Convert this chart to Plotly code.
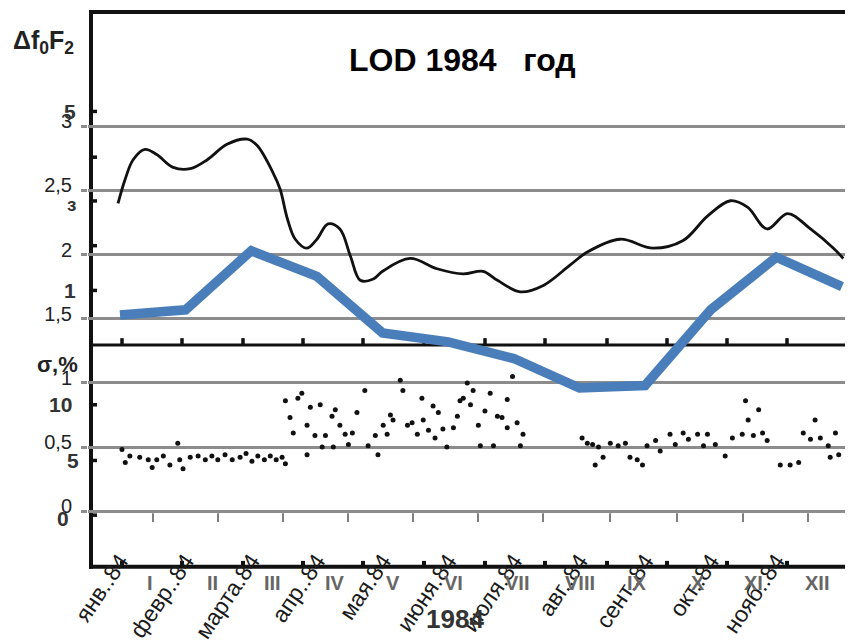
import plotly.graph_objects as go

# ---------------- data ----------------
months = ["янв..84", "февр..84", "марта.84", "апр..84", "мая.84", "июня.84",
          "июля.84", "авг..84", "сент..84", "окт..84", "нояб..84", "дек..84"]
lod_values = [1.53, 1.57, 2.03, 1.83, 1.39, 1.32, 1.19, 0.96, 0.98, 1.57, 1.98, 1.75]

y_ticks = [0, 0.5, 1, 1.5, 2, 2.5, 3]
y_tick_text = ["0", "0,5", "1", "1,5", "2", "2,5", "3"]

# scanned ΔfoF2 curve (month-index units, same value axis)
curve_x = [-0.03, 0.08, 0.20, 0.38, 0.56, 0.81, 1.07, 1.33, 1.63, 1.94, 2.09, 2.33,
           2.44, 2.55, 2.67, 2.85, 3.00, 3.17, 3.35, 3.51, 3.66, 3.86, 4.00, 4.42,
           4.83, 5.23, 5.53, 5.75, 6.10, 6.45, 6.86, 7.12, 7.62, 8.12, 8.58, 8.95,
           9.30, 9.56, 9.86, 10.17, 10.52, 10.87, 11.02]
curve_y = [2.40, 2.59, 2.74, 2.82, 2.78, 2.68, 2.67, 2.74, 2.86, 2.90, 2.85, 2.64,
           2.51, 2.28, 2.12, 2.05, 2.12, 2.24, 2.20, 1.99, 1.80, 1.81, 1.87, 1.97,
           1.89, 1.85, 1.87, 1.80, 1.71, 1.76, 1.92, 2.02, 2.12, 2.05, 2.11, 2.30,
           2.42, 2.37, 2.20, 2.32, 2.20, 2.05, 1.97]

# scanned sigma dots
sigma_x = [0.03, 0.08, 0.15, 0.30, 0.43, 0.49, 0.56, 0.66, 0.76, 0.88, 0.91, 0.96,
           1.07, 1.19, 1.30, 1.40, 1.49, 1.60, 1.71, 1.83, 1.92, 2.01, 2.10, 2.20,
           2.29, 2.38, 2.47, 2.52,
           2.52, 2.59, 2.64, 2.71, 2.77, 2.85, 2.85, 2.90, 2.97, 3.05, 3.08, 3.13,
           3.23, 3.28, 3.25, 3.35, 3.43, 3.48, 3.54, 3.61, 3.73, 3.78, 3.89, 3.93,
           4.01, 4.07, 4.12, 4.16, 4.27, 4.31, 4.38, 4.45, 4.53, 4.60, 4.62, 4.70,
           4.77, 4.80, 4.85, 4.92, 4.98, 5.08, 5.14, 5.18, 5.23, 5.29, 5.34, 5.38,
           5.46, 5.49, 5.56, 5.64, 5.69, 5.75, 5.82, 5.90, 5.90, 5.98, 6.05, 6.10,
           6.14,
           7.04, 7.12, 7.20, 7.24, 7.29, 7.36, 7.47, 7.59, 7.70, 7.77, 7.88, 7.96,
           8.03, 8.16, 8.23, 8.38, 8.46, 8.58, 8.66, 8.80, 8.89, 8.95, 9.07, 9.22,
           9.33, 9.48, 9.53, 9.57, 9.65, 9.73, 9.79, 9.86, 10.06, 10.21, 10.34, 10.41,
           10.52, 10.59, 10.67, 10.79, 10.82, 10.90, 10.95]
sigma_y = [0.48, 0.38, 0.43, 0.42, 0.40, 0.34, 0.40, 0.43, 0.36, 0.53, 0.40, 0.33,
           0.42, 0.43, 0.40, 0.43, 0.40, 0.44, 0.40, 0.42, 0.45, 0.39, 0.43, 0.40,
           0.43, 0.40, 0.42, 0.37,
           0.86, 0.73, 0.61, 0.88, 0.92, 0.67, 0.44, 0.81, 0.59, 0.83, 0.50, 0.59,
           0.74, 0.79, 0.50, 0.67, 0.60, 0.52, 0.61, 0.77, 0.94, 0.51, 0.59, 0.44,
           0.67, 0.60, 0.75, 0.71, 1.02, 0.94, 0.67, 0.69, 0.60, 0.88, 0.71, 0.63,
           0.82, 0.57, 0.77, 0.64, 0.50, 0.65, 0.74, 0.86, 0.88, 1.00, 0.83, 0.94,
           0.67, 0.51, 0.78, 0.92, 0.51, 0.74, 0.73, 0.87, 0.65, 1.05, 0.69, 0.51,
           0.60,
           0.57, 0.53, 0.52, 0.36, 0.50, 0.42, 0.53, 0.51, 0.53, 0.42, 0.40, 0.36,
           0.51, 0.55, 0.47, 0.60, 0.52, 0.61, 0.56, 0.60, 0.51, 0.60, 0.52, 0.43,
           0.57, 0.60, 0.86, 0.71, 0.59, 0.79, 0.61, 0.55, 0.36, 0.36, 0.38, 0.61,
           0.56, 0.71, 0.57, 0.51, 0.42, 0.61, 0.44]

roman = ["I", "II", "III", "IV", "V", "VI", "VII", "VIII", "IX", "X", "XI", "XII"]

# ---------------- layout helpers ----------------
# The page body has an 8px margin, so the figure is drawn at (8, 8).
PAGE_OFF = 8
W, H = 853 - PAGE_OFF, 643 - PAGE_OFF
# plot area in reference (page) pixels
P_LEFT, P_RIGHT, P_TOP, P_BOTTOM = 88, 853, 12, 545
L = P_LEFT - PAGE_OFF
R = 853 - P_RIGHT
T = P_TOP - PAGE_OFF
B = 643 - P_BOTTOM


def px(x):
    return (x - P_LEFT) / (P_RIGHT - P_LEFT)


def py(y):
    return (P_BOTTOM - y) / (P_BOTTOM - P_TOP)


SANS = "Liberation Sans, Arial, sans-serif"

fig = go.Figure()

fig.add_trace(go.Scatter(x=sigma_x, y=sigma_y, mode="markers",
                         marker=dict(color="#111111", size=5, symbol="circle"),
                         hoverinfo="skip", showlegend=False))
fig.add_trace(go.Scatter(x=curve_x, y=curve_y, mode="lines",
                         line=dict(color="#111111", width=2.8, shape="spline", smoothing=1.0),
                         hoverinfo="skip", showlegend=False))
fig.add_trace(go.Scatter(x=list(range(len(months))), y=lod_values, mode="lines",
                         line=dict(color="#4a7ebb", width=9.5),
                         name="LOD", showlegend=False))

shapes = []


def seg(x0, y0, x1, y1, w, c="#111111"):
    shapes.append(dict(type="line", xref="paper", yref="paper",
                       x0=px(x0), y0=py(y0), x1=px(x1), y1=py(y1),
                       line=dict(color=c, width=w), layer="between"))


# scanned frame
seg(89, 12, 851, 12, 4)
seg(91, 10, 91, 572, 4)
seg(89, 570, 851, 570, 4)
seg(850, 12, 850, 570, 2, "#333333")
seg(89, 347, 851, 347, 3)
for xt in [122, 182, 243, 303, 363, 424, 485, 545, 607, 667, 727, 787, 847]:
    seg(xt, 340, xt, 347, 3.5)
    seg(xt, 564, xt, 570, 4)
for xt in [153, 218, 283, 348, 413, 478, 543, 610, 677, 743, 808]:
    seg(xt, 516, xt, 525, 1.5, "#555555")
for yt in [112, 158, 202, 247, 292, 407, 463, 518]:
    seg(91, yt, 97, yt, 3.5)

annotations = []


def txt(s, x, y, size, color="#111111", bold=False, font=SANS, xanchor="center"):
    annotations.append(dict(text=("<b>%s</b>" % s) if bold else s,
                            x=px(x), y=py(y), xref="paper", yref="paper",
                            xanchor=xanchor, yanchor="middle", showarrow=False,
                            font=dict(family=font, size=size, color=color)))


txt("LOD 1984 &nbsp; год", 462, 60, 32, "#000000", bold=True)
txt("Δf<sub>0</sub>F<sub>2</sub>", 43, 42, 25, "#222222", bold=True)
txt("σ,%", 57, 366, 22, "#222222", bold=True)
# scanned value labels
txt("5", 70, 112, 21, "#333333", bold=True)
txt("з", 71, 206, 19, "#333333", bold=True)
txt("1", 70, 292, 21, "#333333", bold=True)
txt("10", 60, 407, 21, "#333333", bold=True)
txt("5", 73, 463, 21, "#333333", bold=True)
txt("0", 63, 521, 21, "#333333", bold=True)
for i, r in enumerate(roman):
    xr = [150, 212, 272, 335, 393, 453, 517, 580, 637, 698, 753, 817][i]
    txt(r, xr, 586, 20, "#666666", bold=True)
txt("1984", 455, 622, 26, "#333333", bold=True)

# axis range: value 0 at 514px, 3 at 127px (reference pixels)
upp = (514 - 127) / 3.0
y_lo = -(P_BOTTOM - 514) / upp
y_hi = 3 + (127 - P_TOP) / upp
x_step = (842 - 120) / 11.0
x_lo = -(120 - P_LEFT) / x_step
x_hi = (P_RIGHT - 120) / x_step

fig.update_layout(
    width=W, height=H,
    margin=dict(l=L, r=R, t=T, b=B, pad=0),
    paper_bgcolor="white", plot_bgcolor="white",
    shapes=shapes, annotations=annotations,
    xaxis=dict(range=[x_lo, x_hi], tickmode="array",
               tickvals=list(range(len(months))), ticktext=months,
               tickangle=-56, showgrid=False, zeroline=False, showline=False,
               ticks="", tickfont=dict(family=SANS, size=23, color="#1a1a1a")),
    yaxis=dict(range=[y_lo, y_hi], tickmode="array", tickvals=y_ticks,
               ticktext=y_tick_text, showgrid=True, gridcolor="#8c8c8c", gridwidth=3,
               zeroline=False, showline=False, ticks="outside", ticklen=6,
               tickcolor="#8c8c8c", tickwidth=3, ticklabelshift=-5,
               ticklabelstandoff=5,
               tickfont=dict(family=SANS, size=20, color="#222222")),
)

fig.write_html("out.html")
